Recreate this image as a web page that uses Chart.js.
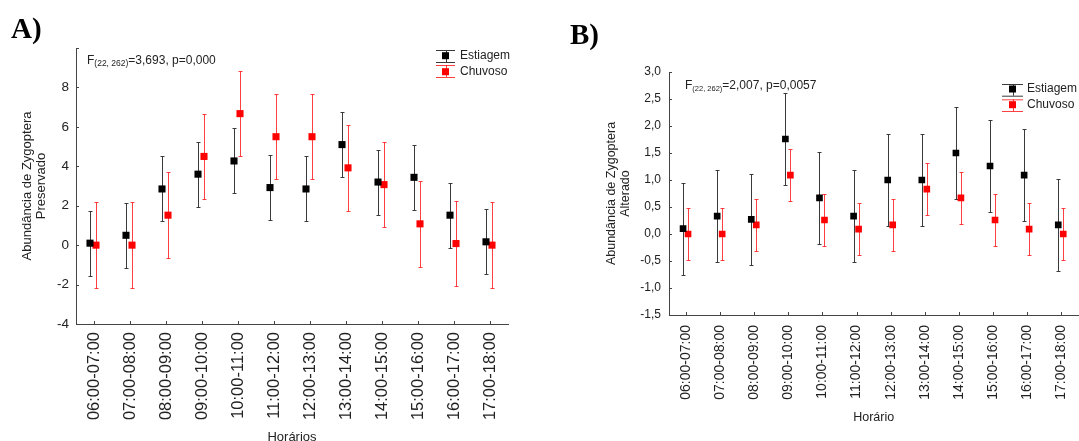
<!DOCTYPE html>
<html>
<head>
<meta charset="utf-8">
<script src="https://cdn.jsdelivr.net/npm/chart.js@4.4.1/dist/chart.umd.min.js"></script>
<style>
  body { margin: 0; background: #fff; width: 1079px; height: 441px; overflow: hidden; position: relative; }
  canvas { position: absolute; top: 0; }
</style>
</head>
<body>
<canvas id="chartA" width="540" height="441" style="left:0"></canvas>
<canvas id="chartB" width="543" height="441" style="left:540px"></canvas>
<script>
var horarios = ['06:00-07:00', '07:00-08:00', '08:00-09:00', '09:00-10:00', '10:00-11:00', '11:00-12:00',
                '12:00-13:00', '13:00-14:00', '14:00-15:00', '15:00-16:00', '16:00-17:00', '17:00-18:00'];

// A) Preservado
var estiagemA = [0.1, 0.5, 2.85, 3.6, 4.27, 2.92, 2.85, 5.1, 3.2, 3.44, 1.52, 0.17];
var erroEstiagemA = [1.65, 1.65, 1.65, 1.65, 1.65, 1.65, 1.65, 1.65, 1.65, 1.65, 1.65, 1.65];
var chuvosoA = [0, 0, 1.52, 4.5, 6.67, 5.5, 5.5, 3.92, 3.07, 1.08, 0.08, 0];
var erroChuvosoA = [2.17, 2.17, 2.17, 2.17, 2.17, 2.17, 2.17, 2.17, 2.17, 2.17, 2.17, 2.17];

// B) Alterado
var estiagemB = [0.1, 0.33, 0.27, 1.76, 0.67, 0.33, 1.0, 1.0, 1.5, 1.26, 1.09, 0.17];
var erroEstiagemB = [0.85, 0.85, 0.85, 0.85, 0.85, 0.85, 0.85, 0.85, 0.85, 0.85, 0.85, 0.85];
var chuvosoB = [0, 0, 0.17, 1.09, 0.26, 0.09, 0.17, 0.83, 0.67, 0.26, 0.09, 0];
var erroChuvosoB = [0.48, 0.48, 0.48, 0.48, 0.48, 0.48, 0.48, 0.48, 0.48, 0.48, 0.48, 0.48];

Chart.defaults.font.family = '"Liberation Sans", Arial, sans-serif';
Chart.defaults.color = '#222';

var BLACK_BAR = '#3a3a3a', RED_BAR = 'rgba(255,30,30,0.85)';

// nudge points sideways and draw the error bars behind them
var errorBars = {
  id: 'errorBars',
  afterDatasetsUpdate: function (chart) {
    chart.data.datasets.forEach(function (ds, i) {
      chart.getDatasetMeta(i).data.forEach(function (p) { p.x += ds.shift || 0; });
    });
  },
  beforeDatasetsDraw: function (chart) {
    var ctx = chart.ctx, y = chart.scales.y;
    chart.data.datasets.forEach(function (ds, i) {
      ctx.save();
      ctx.strokeStyle = ds.errorColor;
      ctx.lineWidth = 1;
      chart.getDatasetMeta(i).data.forEach(function (p, j) {
        var top = Math.round(y.getPixelForValue(ds.data[j] + ds.errors[j])) + 0.5;
        var bot = Math.round(y.getPixelForValue(ds.data[j] - ds.errors[j])) + 0.5;
        var x = Math.round(p.x) + 0.5;
        ctx.beginPath();
        ctx.moveTo(x, top); ctx.lineTo(x, bot);
        ctx.moveTo(x - 2, top); ctx.lineTo(x + 2, top);
        ctx.moveTo(x - 2, bot); ctx.lineTo(x + 2, bot);
        ctx.stroke();
      });
      ctx.restore();
    });
  }
};

// ticks pointing into the plot, panel letter, statistic and legend
var decor = {
  id: 'decor',
  afterDraw: function (chart) {
    var ctx = chart.ctx, area = chart.chartArea, o = chart.options.plugins.decor;
    var xs = chart.scales.x, ys = chart.scales.y;
    ctx.save();
    ctx.strokeStyle = '#444';
    ctx.lineWidth = 1;
    ctx.beginPath();
    xs.ticks.forEach(function (t, i) {
      var x = Math.round(xs.getPixelForTick(i)) + 0.5;
      ctx.moveTo(x, area.bottom); ctx.lineTo(x, area.bottom - 3);
    });
    ys.ticks.forEach(function (t, i) {
      var y = Math.round(ys.getPixelForTick(i)) + 0.5;
      ctx.moveTo(area.left, y); ctx.lineTo(area.left + 3, y);
    });
    ctx.stroke();

    ctx.fillStyle = '#000';
    ctx.textBaseline = 'alphabetic';
    ctx.font = 'bold 29px "Liberation Serif", "Times New Roman", serif';
    ctx.fillText(o.panel, o.panelX, o.panelY);

    // F(22, 262)=...
    ctx.fillStyle = '#222';
    ctx.textBaseline = 'middle';
    var x = o.statX;
    ctx.font = '12px "Liberation Sans", Arial, sans-serif';
    ctx.fillText('F', x, o.statY);
    x += ctx.measureText('F').width;
    ctx.font = o.subSize + 'px "Liberation Sans", Arial, sans-serif';
    ctx.fillText(o.sub, x, o.statY + 3);
    x += ctx.measureText(o.sub).width;
    ctx.font = '12px "Liberation Sans", Arial, sans-serif';
    ctx.fillText(o.stat, x, o.statY);

    // legend
    var lg = o.legend;
    chart.data.datasets.forEach(function (ds, i) {
      var row = lg.rows[i];
      var cx = lg.x;
      ctx.strokeStyle = ds.errorColor;
      ctx.beginPath();
      ctx.moveTo(cx - lg.w / 2, row[0] + 0.5); ctx.lineTo(cx + lg.w / 2, row[0] + 0.5);
      ctx.moveTo(cx - lg.w / 2, row[2] + 0.5); ctx.lineTo(cx + lg.w / 2, row[2] + 0.5);
      ctx.moveTo(Math.round(cx) + 0.5, row[0]); ctx.lineTo(Math.round(cx) + 0.5, row[2]);
      ctx.stroke();
      ctx.fillStyle = ds.backgroundColor;
      ctx.fillRect(cx - 3.5, row[1] - 3.5, 7, 7);
      ctx.fillStyle = '#222';
      ctx.font = '12px "Liberation Sans", Arial, sans-serif';
      ctx.fillText(ds.label, lg.textX, row[1]);
    });
    ctx.restore();
  }
};

function serie(label, values, errors, color, barColor, shift, radius) {
  return {
    label: label,
    data: values,
    errors: errors,
    errorColor: barColor,
    shift: shift,
    showLine: false,
    pointStyle: 'rect',
    pointRadius: radius,
    pointBorderWidth: 0,
    backgroundColor: color,
    borderColor: color
  };
}

function fmtB(v) { return v.toFixed(1).replace('.', ','); }

new Chart(document.getElementById('chartA'), {
  type: 'line',
  data: {
    labels: horarios,
    datasets: [
      serie('Estiagem', estiagemA, erroEstiagemA, '#000', BLACK_BAR, -4, 5),
      serie('Chuvoso', chuvosoA, erroChuvosoA, '#ff0000', RED_BAR, 2, 5)
    ]
  },
  options: {
    responsive: false,
    animation: false,
    events: [],
    layout: { padding: { left: 0, right: 32, top: 48, bottom: 0 } },
    scales: {
      x: {
        offset: true,
        grid: { display: false, drawTicks: false },
        border: { display: true, color: '#444' },
        ticks: { minRotation: 90, maxRotation: 90, padding: 8, autoSkip: false, font: { size: 16.5 } },
        title: { display: true, text: 'Horários', font: { size: 13 }, padding: { top: 0, bottom: -4 } },
        afterFit: function (s) { s.height = 117; s.paddingLeft = 0; s.paddingRight = 0; }
      },
      y: {
        min: -4, max: 10,
        grid: { display: false, drawTicks: false },
        border: { display: true, color: '#444' },
        ticks: { stepSize: 2, padding: 7, font: { size: 13.5 },
                 callback: function (v) { return v === 10 ? '' : v; } },
        title: { display: true, text: ['Abundância de Zygoptera', 'Preservado'],
                 font: { size: 13, lineHeight: 1.05 }, padding: { top: 21, bottom: 0 } },
        afterFit: function (s) { s.width = 76; }
      }
    },
    plugins: {
      legend: { display: false },
      tooltip: { enabled: false },
      decor: {
        panel: 'A)', panelX: 11, panelY: 38,
        statX: 87, statY: 61, sub: '(22, 262)', subSize: 8.5, stat: '=3,693, p=0,000',
        legend: { x: 445.5, w: 19, textX: 460, rows: [[50, 55.7, 62], [65, 71.7, 77]] }
      }
    }
  },
  plugins: [errorBars, decor]
});

new Chart(document.getElementById('chartB'), {
  type: 'line',
  data: {
    labels: horarios,
    datasets: [
      serie('Estiagem', estiagemB, erroEstiagemB, '#000', BLACK_BAR, -3, 4.7),
      serie('Chuvoso', chuvosoB, erroChuvosoB, '#ff0000', RED_BAR, 2, 4.7)
    ]
  },
  options: {
    responsive: false,
    animation: false,
    events: [],
    layout: { padding: { left: 0, right: 0, top: 72, bottom: 0 } },
    scales: {
      x: {
        offset: true,
        grid: { display: false, drawTicks: false },
        border: { display: true, color: '#444' },
        ticks: { minRotation: 90, maxRotation: 90, padding: 10, autoSkip: false, font: { size: 14 } },
        title: { display: true, text: 'Horário', font: { size: 12.5 }, padding: { top: 0, bottom: 16 } },
        afterFit: function (s) { s.height = 126; s.paddingLeft = 0; s.paddingRight = 0; }
      },
      y: {
        min: -1.5, max: 3,
        grid: { display: false, drawTicks: false },
        border: { display: true, color: '#444' },
        ticks: { stepSize: 0.5, padding: 8, font: { size: 12 }, callback: fmtB },
        title: { display: true, text: ['Abundância de Zygoptera', 'Alterado'],
                 font: { size: 12.5, lineHeight: 1.12 }, padding: { top: 64.7, bottom: 0 } },
        afterFit: function (s) { s.width = 129; }
      }
    },
    plugins: {
      legend: { display: false },
      tooltip: { enabled: false },
      decor: {
        panel: 'B)', panelX: 30, panelY: 44,
        statX: 145, statY: 86, sub: '(22, 262)', subSize: 7.5, stat: '=2,007, p=0,0057',
        legend: { x: 472.5, w: 21, textX: 487, rows: [[84, 89, 95.7], [99.3, 104.7, 111]] }
      }
    }
  },
  plugins: [errorBars, decor]
});
</script>
</body>
</html>
